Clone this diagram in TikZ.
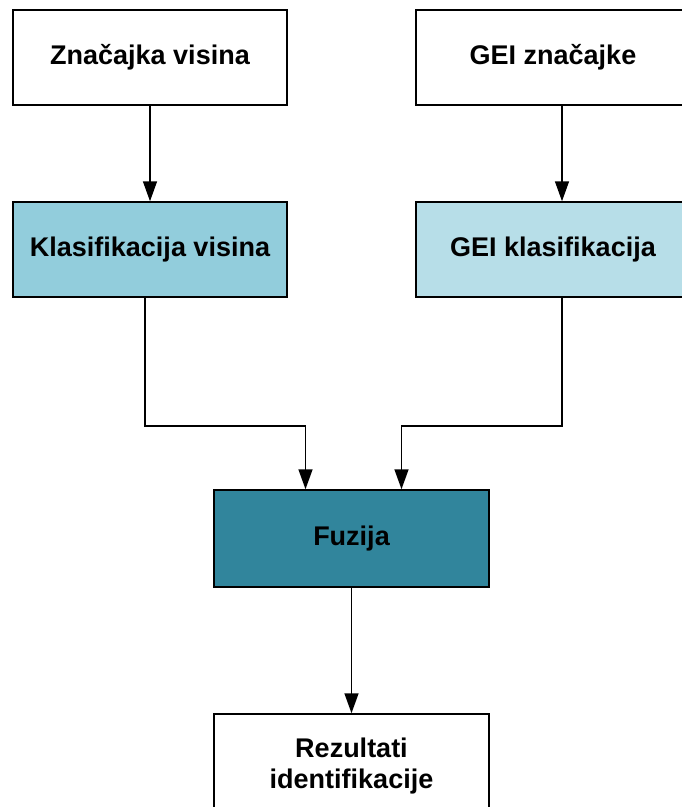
\documentclass[tikz,border=0pt]{standalone}
\usepackage{fontspec}
\setmainfont{Liberation Sans}
\usetikzlibrary{arrows.meta}
\definecolor{cA}{HTML}{92CDDC}
\definecolor{cB}{HTML}{B7DEE8}
\definecolor{cC}{HTML}{31859C}
\begin{document}
\begin{tikzpicture}[x=1pt,y=-1pt,
  box/.style={draw=black,line width=1.5pt,minimum width=274pt,minimum height=95pt,
    font=\bfseries\fontsize{27}{31}\selectfont,align=center,inner sep=0pt},
  arr/.style={line width=1.5pt,-{Triangle[length=20pt,width=14pt]}}]
\useasboundingbox (0,0) rectangle (681,807);
\node[box] (zv) at (150,57.5) {Značajka visina};
\node[box] (gz) at (553,57.5) {GEI značajke};
\node[box,fill=cA] (kv) at (150,249.5) {Klasifikacija visina};
\node[box,fill=cB] (gk) at (553,249.5) {GEI klasifikacija};
\node[box,fill=cC,minimum width=275pt,minimum height=97pt] (fu) at (351.5,538.5) {Fuzija};
\node[box,minimum width=275pt,minimum height=104pt] (rz) at (351.5,766) {Rezultati\\identifikacije};
\draw[arr] (zv.south) -- (kv.north);
\draw[arr] ([xshift=9pt]gz.south) -- ([xshift=9pt]gk.north);
\draw[arr] ([xshift=-5pt]kv.south) |- (305.5,426) -- ([xshift=-46pt]fu.north);
\draw[arr] ([xshift=9pt]gk.south) |- (401.5,426) -- ([xshift=50pt]fu.north);
\draw[arr] (fu.south) -- (rz.north);
\end{tikzpicture}
\end{document}
